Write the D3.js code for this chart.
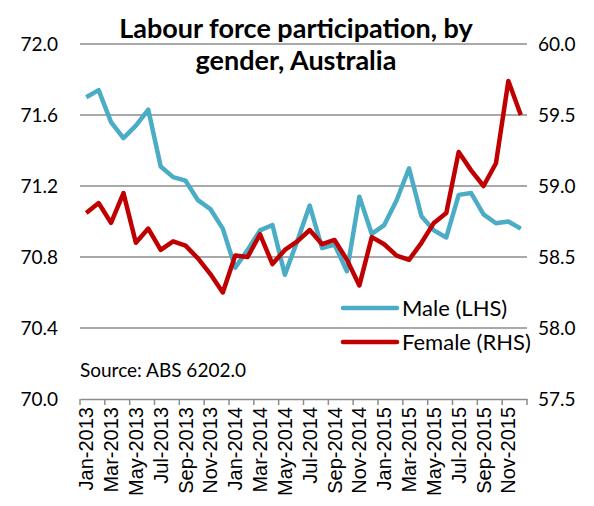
<!DOCTYPE html>
<html>
<head>
<meta charset="utf-8">
<script src="https://cdn.jsdelivr.net/npm/d3@7"></script>
<style>
  body { margin: 0; background: #fff; }
  svg { font-family: "Lato", "Open Sans", sans-serif; }
</style>
</head>
<body>
<div id="chart"></div>
<script>
// monthly, Jan-2013 .. Dec-2015
const months = d3.timeMonths(new Date(2013, 0, 1), new Date(2016, 0, 1));
const male = [71.70, 71.74, 71.56, 71.47, 71.54, 71.63, 71.31, 71.25, 71.23, 71.12, 71.07, 70.96,
              70.74, 70.84, 70.95, 70.98, 70.70, 70.89, 71.09, 70.85, 70.87, 70.72, 71.14, 70.93,
              70.98, 71.12, 71.30, 71.03, 70.95, 70.91, 71.15, 71.16, 71.04, 70.99, 71.00, 70.96];
const female = [58.81, 58.88, 58.74, 58.95, 58.60, 58.70, 58.55, 58.61, 58.58, 58.49, 58.38, 58.25,
                58.51, 58.50, 58.66, 58.45, 58.55, 58.61, 58.69, 58.59, 58.62, 58.48, 58.30, 58.64,
                58.59, 58.51, 58.48, 58.60, 58.74, 58.81, 59.24, 59.11, 59.00, 59.16, 59.74, 59.50];
const leftTicks = [70.0, 70.4, 70.8, 71.2, 71.6, 72.0];
const rightTicks = [57.5, 58.0, 58.5, 59.0, 59.5, 60.0];

const width = 594, height = 506;
const margin = {top: 44, right: 67, bottom: 107, left: 80};
const fmt = d3.timeFormat("%b-%Y");

const svg = d3.select("#chart").append("svg")
  .attr("width", width)
  .attr("height", height);

const x = d3.scaleBand()
  .domain(months.map(d => +d))
  .range([margin.left, width - margin.right]);
const yL = d3.scaleLinear().domain([70, 72]).range([height - margin.bottom, margin.top]);
const yR = d3.scaleLinear().domain([57.5, 60]).range([height - margin.bottom, margin.top]);

// gridlines
svg.append("g")
  .selectAll("line")
  .data(leftTicks.slice(1))
  .join("line")
  .attr("x1", margin.left)
  .attr("x2", width - margin.right)
  .attr("y1", d => yL(d))
  .attr("y2", d => yL(d))
  .attr("stroke", "#8c8c8c")
  .attr("stroke-width", 1.5);

// left axis labels
svg.append("g")
  .selectAll("text")
  .data(leftTicks)
  .join("text")
  .attr("x", 58)
  .attr("y", d => yL(d))
  .attr("dy", "0.35em")
  .attr("text-anchor", "end")
  .style("font-size", "19px")
  .attr("fill", "#000")
  .text(d => d.toFixed(1));

// right axis labels
svg.append("g")
  .selectAll("text")
  .data(rightTicks)
  .join("text")
  .attr("x", 538)
  .attr("y", d => yR(d))
  .attr("dy", "0.35em")
  .attr("text-anchor", "start")
  .style("font-size", "19px")
  .attr("fill", "#000")
  .text(d => d.toFixed(1));

// x axis: ticks every 2 months, labels on every other category
const xTickVals = months.filter((d, i) => i % 2 === 0);
const xAxis = d3.axisBottom(x)
  .tickValues(xTickVals.map(d => +d))
  .tickSize(6)
  .tickSizeOuter(0)
  .tickFormat(d => fmt(new Date(d)));

const gx = svg.append("g")
  .attr("transform", `translate(0,${height - margin.bottom})`)
  .call(xAxis);
gx.select(".domain").attr("stroke", "#8c8c8c").attr("stroke-width", 1.5);
// ticks sit on category boundaries, not centers
gx.selectAll(".tick line")
  .attr("x1", -x.bandwidth() / 2).attr("x2", -x.bandwidth() / 2)
  .attr("stroke", "#8c8c8c").attr("stroke-width", 1.5);
gx.append("line")
  .attr("x1", width - margin.right).attr("x2", width - margin.right)
  .attr("y1", 0).attr("y2", 6)
  .attr("stroke", "#8c8c8c").attr("stroke-width", 1.5);
gx.selectAll(".tick text")
  .attr("transform", "rotate(-90)")
  .attr("x", -8)
  .attr("y", 0)
  .attr("dy", "0.35em")
  .attr("text-anchor", "end")
  .style("font-size", "20px")
  .attr("fill", "#000");

const cx = d => x(+d) + x.bandwidth() / 2;

const lineL = d3.line().x((d, i) => cx(months[i])).y(d => yL(d));
const lineR = d3.line().x((d, i) => cx(months[i])).y(d => yR(d));

svg.append("path")
  .datum(male)
  .attr("fill", "none")
  .attr("stroke", "#4bacc6")
  .attr("stroke-width", 4.5)
  .attr("stroke-linejoin", "round")
  .attr("d", lineL);

svg.append("path")
  .datum(female)
  .attr("fill", "none")
  .attr("stroke", "#c00000")
  .attr("stroke-width", 4.5)
  .attr("stroke-linejoin", "round")
  .attr("d", lineR);

// title
const title = svg.append("text")
  .attr("text-anchor", "middle")
  .style("font-size", "27px")
  .style("font-weight", "bold")
  .attr("fill", "#000");
title.append("tspan").attr("x", 296).attr("y", 38).text("Labour force participation, by");
title.append("tspan").attr("x", 296).attr("y", 70).text("gender, Australia");

// legend
const legend = [
  {name: "Male (LHS)", color: "#4bacc6"},
  {name: "Female (RHS)", color: "#c00000"}
];
const lg = svg.append("g").attr("transform", "translate(343,308)");
legend.forEach((d, i) => {
  lg.append("line")
    .attr("x1", 0).attr("x2", 54)
    .attr("y1", i * 34).attr("y2", i * 34)
    .attr("stroke", d.color)
    .attr("stroke-width", 4.5)
    .attr("stroke-linecap", "round");
  lg.append("text")
    .attr("x", 59).attr("y", i * 34)
    .attr("dy", "0.36em")
    .style("font-size", "22px")
    .attr("fill", "#000")
    .text(d.name);
});

svg.append("text")
  .attr("x", 80).attr("y", 377)
  .style("font-size", "19px")
  .attr("fill", "#000")
  .text("Source: ABS 6202.0");
</script>
</body>
</html>
